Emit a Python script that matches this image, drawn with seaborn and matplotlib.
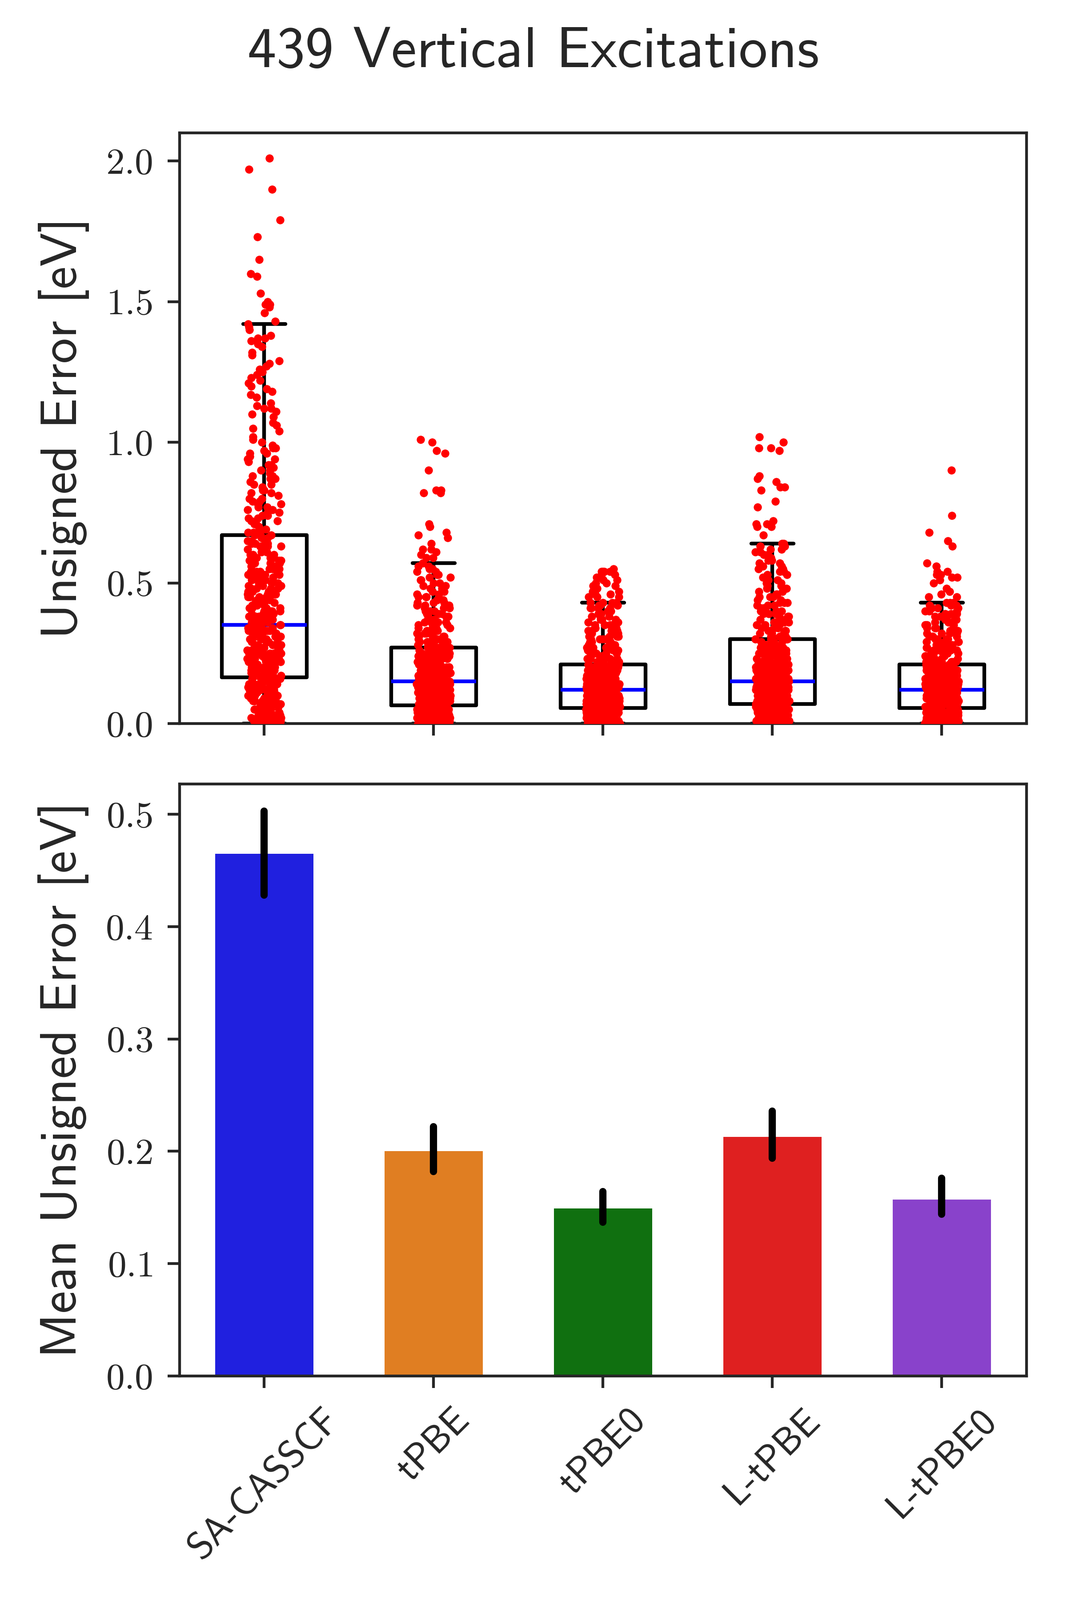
import numpy as np
import pandas as pd
import matplotlib
matplotlib.use("Agg")
import matplotlib.pyplot as plt
import seaborn as sns

# ---------------- data ----------------
methods = ["SA-CASSCF", "tPBE", "tPBE0", "L-tPBE", "L-tPBE0"]
bar_colors = ["#2020df", "#e07e22", "#107010", "#df2020", "#8942cb"]
title = "439 Vertical Excitations"

# unsigned errors (eV), stored as counts per 0.01 eV level starting at 0.00,
# plus the individually read sparse upper tail
BIN = 0.01
sa_counts = [6, 7, 7, 7, 7, 7, 7, 7, 7, 6, 6, 6, 6, 6, 6, 6, 6,
             7, 7, 6, 6, 6, 6, 6, 6, 6, 6, 6, 6, 6, 5, 5, 5, 5, 5, 5,
             4, 4, 4, 4, 4, 4, 4, 4, 4, 4, 4, 3, 4, 3, 4, 3, 4, 3, 4, 3,
             3, 3, 3, 3, 3, 3, 3, 3, 3, 3, 2, 3,
             2, 2, 2, 2, 2, 2, 2, 2, 2, 2, 2, 2,
             2, 1, 2, 2, 1, 2, 1, 2, 2, 1, 2, 1, 2, 1, 2, 1, 2, 1, 2, 1,
             1, 1, 1, 0, 1, 1, 1, 1, 0, 1, 1, 1, 2, 1, 1, 0, 1, 1, 1, 1,
             1, 1, 1, 1, 1, 1, 1, 1, 1, 1, 0, 1, 1, 0, 1, 1, 1, 2, 1, 0, 1, 1, 1]
sa_tail = [1.43, 1.46, 1.48, 1.49, 1.49, 1.50, 1.53, 1.59, 1.60, 1.65,
           1.73, 1.79, 1.90, 1.97, 2.01]

tpbe_counts = [16, 16, 16, 16, 16, 15, 15,
               13, 13, 13, 12, 12, 12, 12, 12, 11,
               11, 11, 10, 10, 10, 9, 9, 9, 8, 8, 8, 7,
               5, 5, 5, 4, 4, 4, 4, 4, 4, 3,
               3, 3, 3, 3, 3, 3, 2, 3, 2, 2,
               2, 2, 2, 2, 2, 2, 2, 2, 2, 1]
tpbe_tail = [0.59, 0.59, 0.60, 0.61, 0.62, 0.62, 0.64, 0.66, 0.67, 0.68, 0.70,
             0.71, 0.82, 0.82, 0.83, 0.83, 0.90, 0.96, 0.97, 1.00, 1.01]

tpbe0_counts = [19, 19, 18, 18, 18, 18,
                16, 16, 16, 16, 16, 15, 15,
                14, 14, 13, 13, 12, 12, 11, 11, 10,
                5, 5, 5, 5, 4, 4, 4, 4, 4, 4,
                4, 4, 4, 3, 3, 3, 3, 3, 3, 4, 3, 4]
tpbe0_tail = [0.45, 0.45, 0.45, 0.46, 0.46, 0.47, 0.47, 0.48, 0.48, 0.49, 0.49,
              0.50, 0.50, 0.51, 0.51, 0.52, 0.52, 0.53, 0.53, 0.54, 0.54, 0.54,
              0.54, 0.55]

ltpbe_counts = [15, 15, 15, 15, 15, 15, 15, 13,
                13, 13, 13, 13, 13, 13, 12, 12,
                10, 10, 9, 9, 8, 8, 8, 7, 7, 7, 6, 6, 6, 5, 4,
                5, 4, 4, 4, 4, 4, 3, 3, 3, 3,
                3, 3, 3, 2, 3, 2, 2, 2, 2, 2,
                2, 2, 2, 2, 2, 2, 2, 2, 2, 2, 2, 2, 3, 2]
ltpbe_tail = [0.67, 0.70, 0.70, 0.71, 0.71, 0.72, 0.77, 0.79, 0.83, 0.84, 0.84,
              0.86, 0.87, 0.88, 0.97, 0.98, 0.98, 1.00, 1.02]

ltpbe0_counts = [19, 19, 18, 18, 18, 18,
                 16, 16, 16, 16, 16, 15, 15,
                 14, 14, 13, 13, 12, 12, 11, 11, 10,
                 6, 6, 5, 5, 5, 5, 5, 4, 4, 4,
                 4, 4, 4, 3, 3, 3, 3, 3, 3, 3, 3, 3]
ltpbe0_tail = [0.45, 0.45, 0.46, 0.47, 0.48, 0.50, 0.51, 0.52, 0.52, 0.53, 0.53,
               0.53, 0.54, 0.54, 0.56, 0.57, 0.63, 0.65, 0.68, 0.74, 0.90]

# mean unsigned errors with 95% confidence interval bounds (eV)
mue = [0.465, 0.200, 0.149, 0.213, 0.157]
ci_low = [0.428, 0.182, 0.137, 0.194, 0.144]
ci_high = [0.503, 0.222, 0.164, 0.236, 0.176]


def expand(counts, tail):
    levels = np.round(np.arange(len(counts)) * BIN, 2)
    return np.concatenate([np.repeat(levels, counts), np.asarray(tail, float)])


all_counts = [sa_counts, tpbe_counts, tpbe0_counts, ltpbe_counts, ltpbe0_counts]
all_tails = [sa_tail, tpbe_tail, tpbe0_tail, ltpbe_tail, ltpbe0_tail]
frames = []
for m, c, t in zip(methods, all_counts, all_tails):
    v = expand(c, t)
    frames.append(pd.DataFrame({"method": m, "err": v}))
df = pd.concat(frames, ignore_index=True)
bar_df = pd.DataFrame({"method": methods, "mue": mue})

# ---------------- style ----------------
sns.set_style("ticks")
plt.rcParams["font.family"] = ["cmr10", "DejaVu Serif"]
plt.rcParams["axes.formatter.use_mathtext"] = True
plt.rcParams["mathtext.fontset"] = "cm"
plt.rcParams["axes.linewidth"] = 1.5
plt.rcParams["axes.edgecolor"] = ".15"
plt.rcParams["text.color"] = ".15"
plt.rcParams["axes.labelcolor"] = ".15"
plt.rcParams["xtick.color"] = ".15"
plt.rcParams["ytick.color"] = ".15"

SANS = ["cmss10", "DejaVu Sans"]

fig = plt.figure(figsize=(8, 12), dpi=300)
ax1 = fig.add_axes([0.1683, 0.5478, 0.7937, 0.3691])
ax2 = fig.add_axes([0.1683, 0.1400, 0.7937, 0.3700])

# ---------------- top: box + strip ----------------
sns.boxplot(data=df, x="method", y="err", order=methods, ax=ax1,
            width=0.5, fill=False, color="black",
            linewidth=2.0, showfliers=False, whis=1.5, capwidths=0.25,
            boxprops={"color": "black", "linewidth": 2.0},
            medianprops={"color": "blue", "linewidth": 2.0},
            whiskerprops={"color": "black", "linewidth": 2.0},
            capprops={"color": "black", "linewidth": 2.0,
                      "solid_capstyle": "round"})
sns.stripplot(data=df, x="method", y="err", order=methods, ax=ax1,
              color="red", size=4.4, jitter=0.1, linewidth=0, zorder=3)
ax1.set_ylim(0, 2.1)
ax1.set_xlim(-0.5, len(methods) - 0.5)
ax1.set_xlabel("")
ax1.set_ylabel("Unsigned Error [eV]", family=SANS, fontsize=27.5, labelpad=9)
ax1.tick_params(axis="x", labelbottom=False)

# ---------------- bottom: bars ----------------
sns.barplot(data=bar_df, x="method", y="mue", hue="method", order=methods,
            hue_order=methods, palette=bar_colors, saturation=1, width=0.58,
            errorbar=None, legend=False, linewidth=0, ax=ax2)
xpos = np.arange(len(methods))
ax2.vlines(xpos, ci_low, ci_high, colors="black", linewidth=3.9,
           capstyle="round", zorder=4)
ax2.set_ylim(0, 0.527)
ax2.set_xlim(-0.5, len(methods) - 0.5)
ax2.set_xlabel("")
ax2.set_ylabel("Mean Unsigned Error [eV]", family=SANS, fontsize=27.5, labelpad=9)
ax2.set_xticks(xpos)
ax2.set_xticklabels(methods, rotation=45, ha="center", family=SANS, fontsize=20.5)

for ax in (ax1, ax2):
    for s in ax.spines.values():
        s.set_visible(True)
        s.set_linewidth(1.5)
    ax.tick_params(axis="both", direction="out", length=6.5, width=1.5)
    ax.tick_params(axis="y", labelsize=20, pad=8)
    ax.tick_params(axis="x", pad=8)

fig.text(0.5, 0.967, title, ha="center", va="center", family=SANS, fontsize=31)

fig.savefig("out.png", dpi=300)
